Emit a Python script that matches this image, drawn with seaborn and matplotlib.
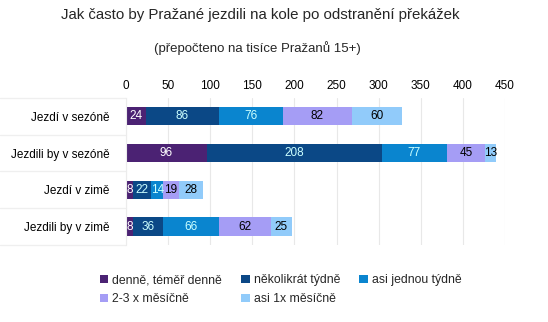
import numpy as np
import pandas as pd
import matplotlib
matplotlib.use("Agg")
import matplotlib.pyplot as plt
import matplotlib.transforms as mtransforms
from matplotlib.patches import Patch
import seaborn as sns

# Data (thousands of Prague residents aged 15+)
categories = ["Jezdí v sezóně", "Jezdili by v sezóně", "Jezdí v zimě", "Jezdili by v zimě"]
series_names = ["denně, téměř denně", "několikrát týdně", "asi jednou týdně",
                "2-3 x měsíčně", "asi 1x měsíčně"]
denne = [24, 96, 8, 8]
nekolikrat = [86, 208, 22, 36]
jednou = [76, 77, 14, 66]
mesicne_23 = [82, 45, 19, 62]
mesicne_1 = [60, 13, 28, 25]
x_ticks = [0, 50, 100, 150, 200, 250, 300, 350, 400, 450]

series_values = [denne, nekolikrat, jednou, mesicne_23, mesicne_1]
colors = ["#4b2273", "#0b4886", "#0a85cf", "#a59df5", "#91cbfa"]
label_colors = ["white", "#ccffff", "#ccffff", "black", "black"]

sns.set_theme(style="white")
plt.rcParams["font.family"] = ["Liberation Sans", "DejaVu Sans"]

fig = plt.figure(figsize=(5.48, 3.22), dpi=100)
ax = fig.add_axes([0.230, 0.239, 0.6915, 0.457])

df = pd.DataFrame({"kategorie": categories})
for name, vals in zip(series_names, series_values):
    df[name] = vals
cum = df[series_names].cumsum(axis=1)

# Stacked bars: draw cumulative totals from the outermost segment inward
for i in range(len(series_names) - 1, -1, -1):
    sns.barplot(data=cum, x=series_names[i], y=df["kategorie"], orient="h",
                color=colors[i], saturation=1, width=0.5, ax=ax,
                edgecolor="none", linewidth=0)

# Segment value labels
for i, name in enumerate(series_names):
    for j, v in enumerate(df[name]):
        center = cum[name].iloc[j] - v / 2
        ax.text(center, j, str(v), ha="center", va="center",
                fontsize=8.5, color=label_colors[i])

ax.set_xlim(0, 450)
ax.set_ylim(3.5, -0.5)
ax.set_xticks(x_ticks)
ax.xaxis.tick_top()
ax.tick_params(axis="x", length=0, labelsize=8.5, pad=4, colors="black")
ax.tick_params(axis="y", length=0, labelsize=8.5, pad=12, colors="black")
ax.set_xlabel("")
ax.set_ylabel("")
ax.grid(axis="x", color="#e8e8e8", linewidth=0.8)
ax.set_axisbelow(True)
for side in ["top", "right", "bottom"]:
    ax.spines[side].set_visible(False)
ax.spines["left"].set_color("#ececec")
ax.spines["left"].set_linewidth(0.8)

# Category separators extending through the label area
trans = mtransforms.blended_transform_factory(ax.transAxes, ax.transData)
for b in np.arange(-0.5, len(categories), 1.0):
    ax.plot([-0.333, 0], [b, b], transform=trans, color="#efefef",
            linewidth=0.9, clip_on=False)

fig.text(0.475, 0.952, "Jak často by Pražané jezdili na kole po odstranění překážek",
         ha="center", va="center", fontsize=10.8)
fig.text(0.469, 0.850, "(přepočteno na tisíce Pražanů 15+)",
         ha="center", va="center", fontsize=9.5)

handles = [Patch(facecolor=c, edgecolor="none", label=n) for c, n in zip(colors, series_names)]
order = [0, 3, 1, 4, 2]
fig.legend([handles[k] for k in order], [series_names[k] for k in order],
           ncol=3, loc="center left", bbox_to_anchor=(0.171, 0.100),
           frameon=False, fontsize=8.8, handlelength=0.7, handleheight=0.7,
           handletextpad=0.3, columnspacing=1.6, labelspacing=0.55,
           borderpad=0)

fig.savefig("out.png", dpi=100)
